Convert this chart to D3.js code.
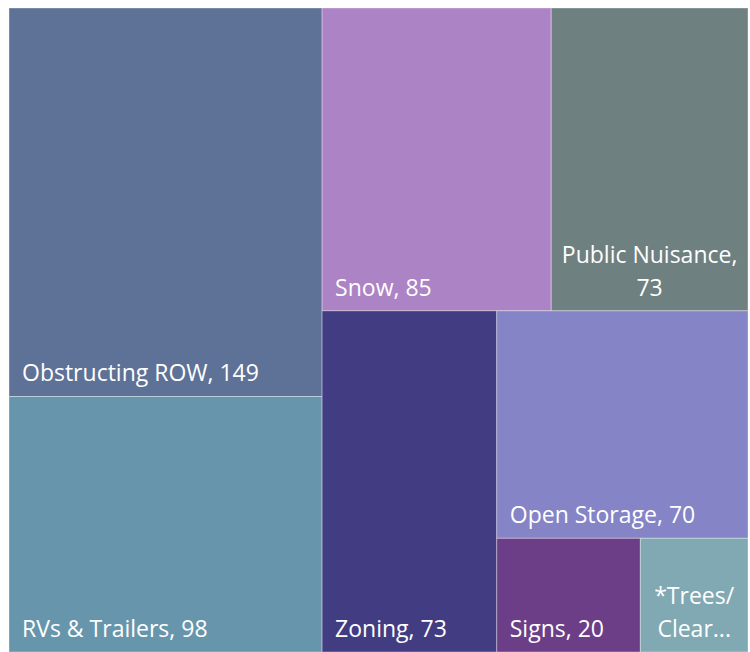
<!DOCTYPE html>
<html>
<head>
<meta charset="utf-8">
<script src="https://cdn.jsdelivr.net/npm/d3@7"></script>
<style>
  body { margin: 0; background: #fff; }
  svg text { font-family: "Open Sans", Lato, sans-serif; fill: #fff; }
</style>
</head>
<body>
<svg id="chart" width="750" height="652"></svg>
<script>
// treemap of code enforcement cases by category
const categories = ["Obstructing ROW", "RVs & Trailers", "Snow", "Public Nuisance", "Zoning", "Open Storage", "Signs", "*Trees/ Clearing"];
const counts = [149, 98, 85, 73, 73, 70, 20, 15];
const labels = [
  ["Obstructing ROW, 149"],
  ["RVs & Trailers, 98"],
  ["Snow, 85"],
  ["Public Nuisance,", "73"],
  ["Zoning, 73"],
  ["Open Storage, 70"],
  ["Signs, 20"],
  ["*Trees/", "Clear..."]
];
const colours = ["#5e7197", "#6796ac", "#ac83c5", "#6e8080", "#423c82", "#8584c6", "#6b3e87", "#80a9b3"];

const svg = d3.select("#chart");
const margin = { left: 9, top: 8 };
const width = 739, height = 644;

const rows = categories.map((c, i) => ({ name: c, value: counts[i], lines: labels[i], colour: colours[i] }));

const root = d3.hierarchy({ children: rows })
  .sum(d => d.value || 0)
  .sort((a, b) => b.value - a.value);

d3.treemap()
  .tile(d3.treemapSquarify.ratio(1))
  .size([width, height])
  .round(false)(root);

const g = svg.append("g").attr("transform", `translate(${margin.left},${margin.top})`);

const cell = g.selectAll("g.cell").data(root.leaves()).enter().append("g")
  .attr("class", "cell")
  .attr("transform", d => `translate(${d.x0},${d.y0})`);

cell.append("rect")
  .attr("width", d => d.x1 - d.x0)
  .attr("height", d => d.y1 - d.y0)
  .attr("fill", d => d.data.colour)
  .attr("stroke", "rgba(255,255,255,0.35)")
  .attr("stroke-width", 1);

const lineGap = 33;
cell.each(function(d) {
  const w = d.x1 - d.x0, h = d.y1 - d.y0;
  const lines = d.data.lines;
  const multi = lines.length > 1;
  const t = d3.select(this).append("text")
    .attr("font-size", 23)
    .attr("text-anchor", multi ? "middle" : "start");
  lines.forEach((ln, i) => {
    t.append("tspan")
      .attr("x", multi ? w / 2 : 13)
      .attr("y", h - 15 - (lines.length - 1 - i) * lineGap)
      .text(ln);
  });
});
</script>
</body>
</html>
